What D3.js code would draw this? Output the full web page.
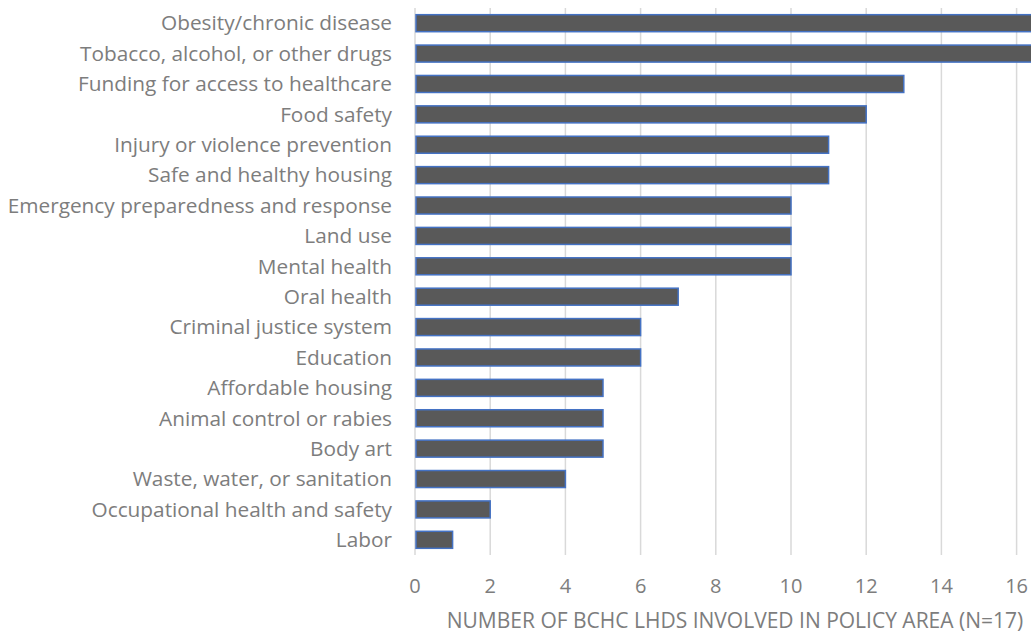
<!DOCTYPE html>
<html>
<head>
<meta charset="utf-8">
<script src="https://cdn.jsdelivr.net/npm/d3@7"></script>
<style>
  html, body { margin: 0; padding: 0; background: #fff; }
  svg { display: block; }
  text { font-family: "Open Sans", "Noto Sans", sans-serif; }
</style>
</head>
<body>
<svg id="chart" width="1031" height="635"></svg>
<script>
// Policy areas and the number of LHDs involved in each
const categories = [
  "Obesity/chronic disease",
  "Tobacco, alcohol, or other drugs",
  "Funding for access to healthcare",
  "Food safety",
  "Injury or violence prevention",
  "Safe and healthy housing",
  "Emergency preparedness and response",
  "Land use",
  "Mental health",
  "Oral health",
  "Criminal justice system",
  "Education",
  "Affordable housing",
  "Animal control or rabies",
  "Body art",
  "Waste, water, or sanitation",
  "Occupational health and safety",
  "Labor"
];
const values = [17, 17, 13, 12, 11, 11, 10, 10, 10, 7, 6, 6, 5, 5, 5, 4, 2, 1];
const xTicks = [0, 2, 4, 6, 8, 10, 12, 14, 16, 18];
const axisTitle = "NUMBER OF BCHC LHDS INVOLVED IN POLICY AREA (N=17)";

const svg = d3.select("#chart");

const plotLeft = 415, plotTop = 8, plotBottom = 555;
const x = d3.scaleLinear().domain([0, 18]).range([plotLeft, plotLeft + 18 * 37.6]);
const y = d3.scaleBand().domain(categories).range([plotTop, plotBottom]).paddingInner(0.44).paddingOuter(0.22);

const textColor = "#7d7d7d";

// Vertical gridlines
svg.append("g")
  .selectAll("line")
  .data(xTicks.filter(d => d > 0))
  .join("line")
  .attr("x1", d => x(d)).attr("x2", d => x(d))
  .attr("y1", plotTop).attr("y2", plotBottom)
  .attr("stroke", "#d9d9d9").attr("stroke-width", 1.5);

// Category axis line
svg.append("line")
  .attr("x1", x(0)).attr("x2", x(0))
  .attr("y1", plotTop).attr("y2", plotBottom)
  .attr("stroke", "#d9d9d9").attr("stroke-width", 1.5);

// Bars
svg.append("g")
  .selectAll("rect")
  .data(values)
  .join("rect")
  .attr("x", x(0) + 1)
  .attr("y", (d, i) => y(categories[i]))
  .attr("width", d => x(d) - x(0) - 1)
  .attr("height", y.bandwidth())
  .attr("fill", "#595959")
  .attr("stroke", "#4472c4")
  .attr("stroke-width", 1.5);

// Category labels
svg.append("g")
  .selectAll("text")
  .data(categories)
  .join("text")
  .attr("x", plotLeft - 23)
  .attr("y", d => y(d) + y.bandwidth() / 2)
  .attr("dy", "0.35em")
  .attr("text-anchor", "end")
  .attr("font-size", 20.8)
  .attr("fill", textColor)
  .text(d => d);

// Value axis tick labels (the last ones run past the right edge)
svg.append("g")
  .selectAll("text")
  .data(xTicks.filter(d => x(d) < 1031))
  .join("text")
  .attr("x", d => x(d))
  .attr("y", 586)
  .attr("dy", "0.35em")
  .attr("text-anchor", "middle")
  .attr("font-size", 20)
  .attr("fill", textColor)
  .text(d => d);

// Axis title
svg.append("text")
  .attr("x", 735)
  .attr("y", 621)
  .attr("dy", "0.35em")
  .attr("text-anchor", "middle")
  .attr("font-size", 21)
  .attr("fill", textColor)
  .text(axisTitle);
</script>
</body>
</html>
